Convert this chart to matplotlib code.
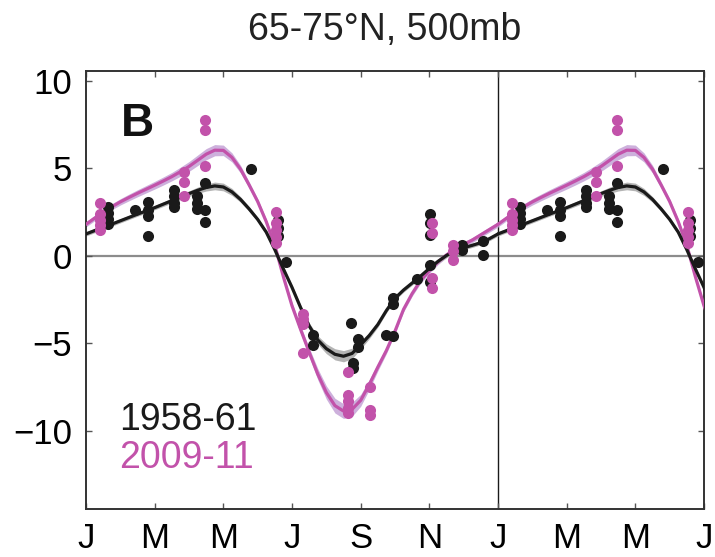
import numpy as np
import matplotlib
matplotlib.use("Agg")
import matplotlib.pyplot as plt

plt.rcParams['font.family'] = ['Liberation Sans', 'DejaVu Sans']

# ---- data -------------------------------------------------------------
# month positions (0 = 1 Jan) of the observations and their anomalies
early_months = [0.64, 0.64, 0.64, 0.64, 1.43, 1.82, 1.82, 1.82, 1.82,
                2.57, 2.57, 2.57, 2.57, 3.22, 3.22, 3.22, 3.47, 3.47, 3.47,
                4.80, 5.60, 5.60, 5.60, 5.83, 6.62, 6.62, 7.72, 7.79, 7.79,
                7.93, 7.93, 8.74, 8.93, 8.95, 8.95, 9.63,
                10.02, 10.02, 10.02, 10.02, 10.02, 10.94, 10.94, 11.55, 11.55]
early_values = [2.80, 2.45, 2.10, 1.80, 2.60, 3.10, 2.60, 2.25, 1.14,
                3.77, 3.40, 3.00, 2.80, 3.40, 3.00, 2.70, 4.15, 2.60, 1.95,
                4.95, 2.05, 1.60, 1.14, -0.36, -4.50, -5.10, -3.82, -6.10, -6.40,
                -4.76, -5.20, -4.50, -4.60, -2.40, -2.75, -1.30,
                2.38, 1.86, 1.20, -0.51, -1.47, 0.63, 0.34, 0.82, 0.06]

late_months = [0.42, 0.42, 0.42, 0.42, 0.42, 2.84, 2.84, 2.84,
               3.47, 3.47, 3.47, 5.53, 5.53, 5.53, 5.53, 5.53,
               6.31, 6.31, 6.31, 6.31, 7.62, 7.62, 7.62, 7.62, 7.62,
               8.27, 8.27, 8.27, 10.08, 10.08, 10.08, 10.08,
               10.70, 10.70, 10.70]
late_values = [3.04, 2.40, 2.05, 1.77, 1.48, 4.80, 4.20, 3.40,
               7.75, 7.20, 5.10, 2.50, 1.85, 1.45, 1.10, 0.72,
               -3.30, -3.60, -3.90, -5.56, -6.64, -7.94, -8.30, -8.70, -8.95,
               -7.50, -8.80, -9.07, 1.86, 1.29, -1.27, -1.84,
               0.63, 0.25, -0.23]

# fitted seasonal cycles, sampled every quarter month from Jan 1 to Jan 1
fit_months = np.arange(0, 12.01, 0.25)
early_fit = [1.25, 1.44, 1.62, 1.81, 2.00, 2.19, 2.38, 2.56, 2.75, 2.95,
             3.15, 3.35, 3.55, 3.74, 3.90, 3.99, 3.93, 3.65, 3.22, 2.68,
             2.08, 1.35, 0.35, -0.75, -1.80, -2.95, -4.00, -4.80, -5.30,
             -5.62, -5.73, -5.57, -5.08, -4.55, -3.92, -3.12, -2.42, -1.95,
             -1.55, -1.15, -0.72, -0.32, 0.02, 0.28, 0.46, 0.60, 0.75,
             0.98, 1.25]
early_band = [0.12, 0.12, 0.12, 0.12, 0.12, 0.12, 0.12, 0.12, 0.12, 0.13,
              0.14, 0.15, 0.16, 0.18, 0.20, 0.22, 0.22, 0.20, 0.16, 0.14,
              0.12, 0.12, 0.12, 0.12, 0.14, 0.16, 0.18, 0.24, 0.28,
              0.32, 0.32, 0.30, 0.24, 0.18, 0.15, 0.13, 0.12, 0.12,
              0.12, 0.12, 0.12, 0.12, 0.12, 0.12, 0.12, 0.12, 0.12,
              0.12, 0.12]

late_fit = [1.80, 2.15, 2.48, 2.80, 3.08, 3.33, 3.57, 3.80, 4.03, 4.27,
            4.52, 4.80, 5.10, 5.45, 5.80, 6.03, 6.02, 5.62, 4.95, 4.05,
            3.10, 1.95, 0.60, -1.20, -2.85, -4.20, -5.50, -6.75, -7.80,
            -8.55, -8.86, -8.76, -8.25, -7.35, -6.35, -5.40, -4.30, -3.05,
            -2.15, -1.40, -0.85, -0.35, 0.05, 0.38, 0.65, 0.90, 1.20,
            1.50, 1.80]
late_band = [0.15, 0.15, 0.16, 0.17, 0.18, 0.19, 0.20, 0.21, 0.22, 0.23,
             0.24, 0.26, 0.28, 0.30, 0.32, 0.32, 0.30, 0.26, 0.22, 0.18,
             0.16, 0.15, 0.15, 0.16, 0.18, 0.22, 0.26, 0.32, 0.38,
             0.42, 0.42, 0.40, 0.34, 0.28, 0.22, 0.18, 0.16, 0.15,
             0.15, 0.15, 0.15, 0.15, 0.15, 0.15, 0.15, 0.15, 0.15,
             0.15, 0.15]

month_ticks = [0, 2, 4, 6, 8, 10, 12, 14, 16, 18]
month_labels = ['J', 'M', 'M', 'J', 'S', 'N', 'J', 'M', 'M', 'J']
y_ticks = [-10, -5, 0, 5, 10]

early_label = '1958-61'
late_label = '2009-11'
title = '65-75°N, 500mb'

# ---- style -------------------------------------------------------------
BLACK = '#1a1a1a'
MAGENTA = '#c252aa'
GREY_BAND = '#b4b4b4'
PURPLE_BAND = '#cdb0dc'
FS = 25
FS_BIG = 27

fig = plt.figure(figsize=(7.15, 5.57), dpi=100)
ax = fig.add_axes([86 / 715, 1 - 509 / 557, 618 / 715, 438 / 557])

ax.axhline(0, color='#8c8c8c', lw=1.6, zorder=1)
ax.axvline(12, color=BLACK, lw=1.0, zorder=1)


def repeat_year(months, values, shift=12.0):
    months = np.asarray(months, float)
    values = np.asarray(values, float)
    return np.concatenate([months, months + shift]), np.concatenate([values, values])


fm = np.asarray(fit_months)
for fit, band, band_col in ((late_fit, late_band, PURPLE_BAND),
                            (early_fit, early_band, GREY_BAND)):
    f = np.asarray(fit)
    b = np.asarray(band)
    for off in (0, 12):
        ax.fill_between(fm + off, f - b, f + b, color=band_col, lw=0, zorder=2)

for fit, col in ((late_fit, MAGENTA), (early_fit, BLACK)):
    for off in (0, 12):
        ax.plot(fm + off, fit, color=col, lw=2.3, solid_capstyle='round',
                solid_joinstyle='round', zorder=3)

ex, ey = repeat_year(early_months, early_values)
lx, ly = repeat_year(late_months, late_values)
ax.scatter(ex, ey, s=64, color=BLACK, linewidths=0, zorder=4)
ax.scatter(lx, ly, s=64, color=MAGENTA, linewidths=0, zorder=5)

ax.set_xlim(0, 18)
ax.set_ylim(-14.45, 10.55)
ax.set_xticks(month_ticks)
ax.set_xticklabels(month_labels)
ax.set_yticks(y_ticks)
ax.set_yticklabels([str(t).replace('-', '\u2212') for t in y_ticks])
ax.tick_params(direction='in', length=4, width=1.0, color='#555555',
               labelsize=FS, top=True, right=True)
ax.tick_params(axis='x', pad=9)
ax.tick_params(axis='y', pad=10)
for sp in ax.spines.values():
    sp.set_color('#333333')
    sp.set_linewidth(1.4)

ax.text(0.083, 0.879, 'B', transform=ax.transAxes, fontsize=33,
        fontweight='bold', ha='center', va='center', color='#111111')
ax.text(0.053, 0.203, early_label, transform=ax.transAxes, fontsize=FS_BIG,
        color=BLACK, ha='left', va='center')
ax.text(0.053, 0.116, late_label, transform=ax.transAxes, fontsize=FS_BIG,
        color=MAGENTA, ha='left', va='center')

fig.text(385 / 715, 1 - 30 / 557, title, fontsize=FS_BIG, ha='center',
         va='center', color='#222222')

fig.savefig('out.png', dpi=100)
